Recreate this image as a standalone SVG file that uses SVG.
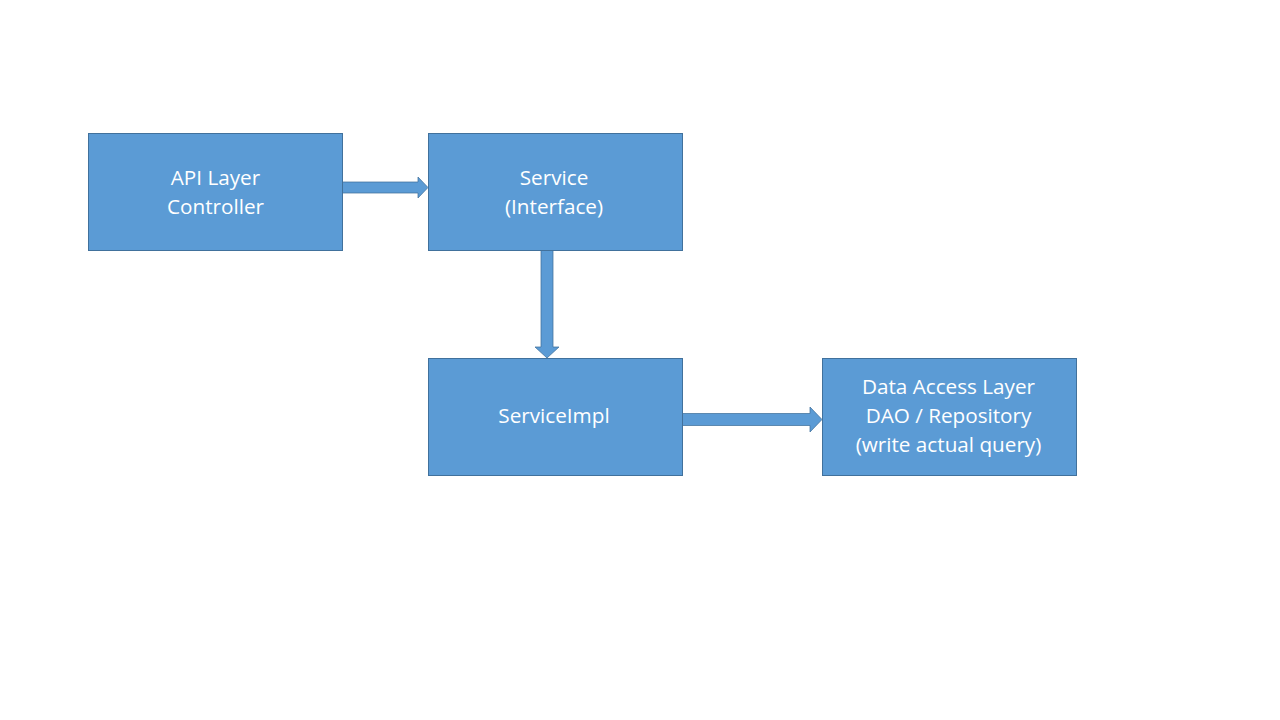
<svg xmlns="http://www.w3.org/2000/svg" width="1280" height="720" viewBox="0 0 1280 720">
<style>
.box{fill:#5B9BD5;stroke:#41719C;stroke-width:1}
.lbl{font-family:"Open Sans","Liberation Sans",sans-serif;font-size:20.7px;fill:#FFFFFF;text-anchor:middle}
.arr{fill:#5B9BD5;stroke:#41719C;stroke-width:0.75}
</style>
<rect width="1280" height="720" fill="#FFFFFF"/>
<g id="connectors">
<polygon class="arr" points="342,182 418,182 418,177 428,187.5 418,198 418,193 342,193"/>
<polygon class="arr" points="541,250 553,250 553,347 559,347 547,358 535,347 541,347"/>
<polygon class="arr" points="682,413.5 810,413.5 810,407 822,419.5 810,432 810,425.5 682,425.5"/>
</g>
<g id="api">
<rect class="box" x="88.5" y="133.5" width="254" height="117"/>
<text class="lbl" x="215.5" y="185">API Layer</text>
<text class="lbl" x="215.5" y="214">Controller</text>
</g>
<g id="service">
<rect class="box" x="428.5" y="133.5" width="254" height="117"/>
<text class="lbl" x="554" y="185">Service</text>
<text class="lbl" x="554" y="214">(Interface)</text>
</g>
<g id="serviceimpl">
<rect class="box" x="428.5" y="358.5" width="254" height="117"/>
<text class="lbl" x="554" y="423">ServiceImpl</text>
</g>
<g id="dao">
<rect class="box" x="822.5" y="358.5" width="254" height="117"/>
<text class="lbl" x="948.5" y="394">Data Access Layer</text>
<text class="lbl" x="948.5" y="423">DAO / Repository</text>
<text class="lbl" x="948.5" y="452">(write actual query)</text>
</g>
</svg>
